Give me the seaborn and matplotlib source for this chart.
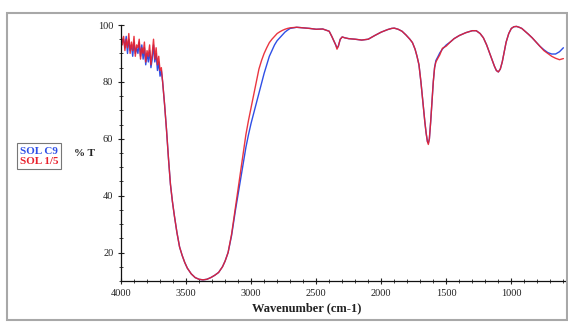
import matplotlib
matplotlib.use("Agg")
import matplotlib.pyplot as plt
from matplotlib.patches import Rectangle
from matplotlib.lines import Line2D
from matplotlib.ticker import MultipleLocator
import seaborn as sns
import pandas as pd

# ---------------- data ----------------
series_names = ["SOL C9", "SOL 1/5"]

wavenumber = [
    4000, 3990, 3980, 3970, 3960, 3950, 3940, 3930, 3920, 3910, 3900, 3890, 3880, 3870, 3860, 3850,
    3840, 3830, 3820, 3810, 3800, 3790, 3780, 3770, 3760, 3750, 3740, 3730, 3720, 3710, 3700, 3690,
    3680, 3665, 3650, 3635, 3620, 3605, 3590, 3570, 3550, 3530, 3510, 3490, 3460, 3430, 3400, 3370,
    3340, 3310, 3280, 3250, 3220, 3200, 3177, 3150, 3120, 3100, 3080, 3060, 3040, 3020, 3000, 2980,
    2960, 2940, 2920, 2900, 2880, 2860, 2840, 2820, 2800, 2780, 2760, 2740, 2720, 2700, 2650, 2600,
    2550, 2500, 2450, 2400, 2380, 2365, 2350, 2340, 2330, 2315, 2300, 2280, 2250, 2200, 2150, 2100,
    2050, 2000, 1950, 1920, 1900, 1870, 1840, 1810, 1780, 1760, 1740, 1725, 1710, 1695, 1680, 1665,
    1655, 1645, 1638, 1630, 1620, 1610, 1600, 1590, 1580, 1565, 1550, 1530, 1500, 1470, 1440, 1400,
    1350, 1300, 1270, 1240, 1215, 1190, 1170, 1150, 1130, 1115, 1100, 1085, 1070, 1055, 1040, 1020,
    1000, 980, 960, 940, 920, 900, 870, 840, 810, 780, 750, 720, 690, 660, 630, 600,
]

t_sol_c9 = [
    96, 94, 95, 92, 96, 90, 95, 91, 93, 89, 94, 90, 92, 90, 94, 89,
    93, 88, 92, 86, 90, 87, 91, 85, 88, 93, 87, 90, 84, 87, 82, 84,
    80, 72, 63, 53, 44, 38, 33, 27, 22, 19, 16.5, 14.5, 12.5, 11.2, 10.6, 10.4,
    10.6, 11.2, 12, 13, 15, 17, 20, 26, 35, 40.5, 46, 51.5, 57, 61.5, 65.5, 69,
    72.5, 76, 79.5, 83, 86, 89, 91, 93, 94.5, 95.5, 96.5, 97.5, 98.2, 98.8, 99.2, 99,
    98.8, 98.5, 98.6, 97.8, 96, 94.5, 93, 92, 92.5, 95, 95.8, 95.5, 95.2, 95, 94.7, 95,
    96.3, 97.5, 98.4, 98.8, 98.9, 98.5, 97.8, 96.5, 95, 93.8, 91.5, 89, 86, 80, 73, 66,
    62, 59, 58.5, 60, 66, 73, 80, 85, 87.5, 88.8, 90.2, 91.5, 93, 94, 95.2, 96.3,
    97.3, 98, 98, 97, 95.5, 93, 90.5, 88, 85.5, 84, 83.5, 84.5, 87, 90.5, 94, 97,
    98.8, 99.4, 99.5, 99.2, 98.8, 98, 96.8, 95.5, 94, 92.5, 91.3, 90.3, 89.8, 89.8, 90.6, 92,
]

t_sol_1_5 = [
    97, 93, 96, 91, 95, 92, 97, 90, 94, 91, 96, 89, 93, 92, 95, 88,
    92, 90, 94, 87, 91, 89, 93, 86, 90, 95, 88, 92, 86, 89, 84, 85,
    80, 72, 63, 53, 44, 38, 33, 27, 22, 19, 16.5, 14.5, 12.5, 11.2, 10.6, 10.4,
    10.6, 11.2, 12, 13, 15, 17, 20, 26.5, 36, 42.5, 48.5, 55, 61.5, 66.5, 71, 75.5,
    80, 84.5, 87.5, 90, 92, 93.8, 95, 96, 97, 97.6, 98.1, 98.5, 98.8, 99, 99.2, 99,
    98.8, 98.5, 98.6, 97.8, 96, 94.5, 93, 91.5, 92.5, 95, 95.8, 95.5, 95.2, 95, 94.7, 95,
    96.3, 97.5, 98.4, 98.8, 98.9, 98.5, 97.8, 96.5, 95, 93.8, 91.5, 89, 86, 80, 73, 66,
    62, 59, 58, 60, 66, 73, 80, 85, 87, 88.3, 89.5, 91.8, 92.6, 94, 95.2, 96.3,
    97.3, 98, 98, 97, 95.5, 93, 90.5, 88, 85.5, 84, 83.5, 84.5, 87, 90.5, 94, 97,
    98.8, 99.4, 99.5, 99.2, 98.8, 98, 96.8, 95.5, 94, 92.5, 91, 90, 89, 88.3, 87.8, 88.2,
]

x_ticks = [4000, 3500, 3000, 2500, 2000, 1500, 1000]
y_ticks = [20, 40, 60, 80, 100]
x_label = "Wavenumber (cm-1)"
y_label = "% T"

colors = {"SOL C9": "#2f4fe6", "SOL 1/5": "#e8202c"}

df = pd.concat([
    pd.DataFrame({"wn": wavenumber, "T": t_sol_c9, "Sample": "SOL C9"}),
    pd.DataFrame({"wn": wavenumber, "T": t_sol_1_5, "Sample": "SOL 1/5"}),
], ignore_index=True)

# ---------------- plot ----------------
sns.set_style("white")
plt.rcParams["font.family"] = ["Liberation Serif", "DejaVu Serif"]

W, H = 568, 322
fig = plt.figure(figsize=(W / 100, H / 100), dpi=100)
ax = fig.add_axes([121 / W, 1 - 281 / H, (566 - 121) / W, (281 - 25) / H])

for name in series_names:
    sub = df[df["Sample"] == name]
    sns.lineplot(data=sub, x="wn", y="T", ax=ax, color=colors[name],
                 lw=1.0, alpha=0.9 if name == "SOL 1/5" else 1.0,
                 estimator=None, sort=False, legend=False)

ax.set_xlim(4000, 580)
ax.set_ylim(10, 100)
ax.set_xticks(x_ticks)
ax.set_xticklabels([str(v) for v in x_ticks])
ax.set_yticks(y_ticks)
ax.set_yticklabels([str(v) for v in y_ticks])
ax.xaxis.set_minor_locator(MultipleLocator(100))
ax.yaxis.set_minor_locator(MultipleLocator(5))
ax.tick_params(axis="both", which="major", direction="inout", length=5, width=0.8,
               labelsize=7.5, colors="#222222", pad=3)
ax.tick_params(axis="both", which="minor", direction="inout", length=3, width=0.6,
               colors="#222222")
ax.tick_params(axis="both", which="both", bottom=True, left=True, top=False, right=False)

for side in ["top", "right"]:
    ax.spines[side].set_visible(False)
for side in ["left", "bottom"]:
    ax.spines[side].set_color("#111111")
    ax.spines[side].set_linewidth(0.9)

ax.set_xlabel(x_label, fontsize=9, fontweight="bold", color="#222222")
ax.xaxis.set_label_coords((307 - 121) / (566 - 121), -0.085)
ax.set_ylabel(y_label, fontsize=8, fontweight="bold", rotation=0, color="#222222")
ax.yaxis.set_label_coords((84 - 121) / (566 - 121), (281 - 158) / (281 - 25))

handles = [Line2D([], [], lw=0) for _ in series_names]
leg = ax.legend(handles, series_names, loc="upper left",
                bbox_to_anchor=(17 / W, 1 - 143 / H), bbox_transform=fig.transFigure,
                handlelength=0, handletextpad=0, borderpad=0.25, labelspacing=0.05,
                borderaxespad=0, frameon=True, fancybox=False,
                prop={"weight": "bold", "size": 8})
leg.get_frame().set_edgecolor("#555555")
leg.get_frame().set_linewidth(0.8)
for txt, name in zip(leg.get_texts(), series_names):
    txt.set_color(colors[name])

fig.patches.append(Rectangle((7 / W, 2 / H), (567 - 7) / W, (320 - 13) / H,
                             transform=fig.transFigure, fill=False,
                             edgecolor="#a8a8a8", lw=1.5))

fig.savefig("out.png", dpi=100)
